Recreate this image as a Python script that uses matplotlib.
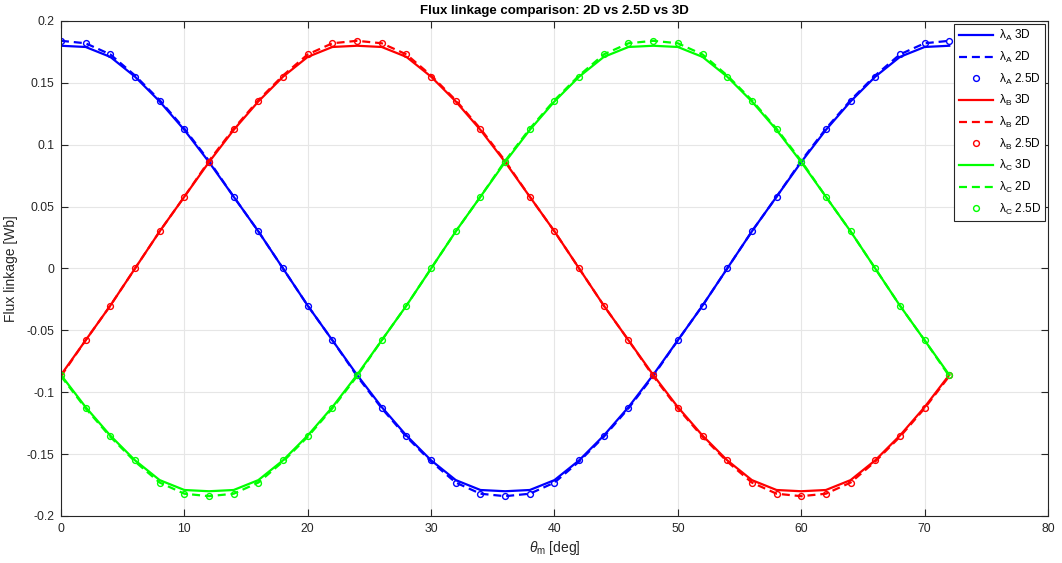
import numpy as np
import matplotlib
matplotlib.use("Agg")
import matplotlib.pyplot as plt

plt.rcParams["font.family"] = ["Liberation Sans", "DejaVu Sans"]
plt.rcParams["mathtext.fontset"] = "custom"
plt.rcParams["mathtext.rm"] = "Liberation Sans"
plt.rcParams["mathtext.it"] = "Liberation Sans:italic"

# Mechanical rotor angle [deg]
theta = [0, 2, 4, 6, 8, 10, 12, 14, 16, 18, 20, 22, 24, 26, 28, 30, 32, 34, 36,
         38, 40, 42, 44, 46, 48, 50, 52, 54, 56, 58, 60, 62, 64, 66, 68, 70, 72]

# Phase A flux linkage [Wb]
lamA_3d = [0.180, 0.179, 0.171, 0.155, 0.135, 0.112, 0.086, 0.058, 0.030, 0.000,
           -0.030, -0.058, -0.086, -0.112, -0.135, -0.155, -0.171, -0.179, -0.180,
           -0.179, -0.171, -0.155, -0.135, -0.112, -0.086, -0.058, -0.030, 0.000,
           0.030, 0.058, 0.086, 0.112, 0.135, 0.155, 0.171, 0.179, 0.180]
lamA_2d = [0.184, 0.182, 0.173, 0.156, 0.136, 0.113, 0.087, 0.058, 0.030, 0.000,
           -0.030, -0.058, -0.087, -0.113, -0.136, -0.156, -0.173, -0.182, -0.184,
           -0.182, -0.173, -0.156, -0.136, -0.113, -0.087, -0.058, -0.030, 0.000,
           0.030, 0.058, 0.087, 0.113, 0.136, 0.156, 0.173, 0.182, 0.184]
lamA_25d = [0.184, 0.182, 0.173, 0.155, 0.135, 0.113, 0.086, 0.058, 0.030, 0.000,
            -0.030, -0.058, -0.086, -0.113, -0.135, -0.155, -0.173, -0.182, -0.184,
            -0.182, -0.173, -0.155, -0.135, -0.113, -0.086, -0.058, -0.030, 0.000,
            0.030, 0.058, 0.086, 0.113, 0.135, 0.155, 0.173, 0.182, 0.184]

# Phase B flux linkage [Wb]
lamB_3d = [-0.086, -0.058, -0.030, 0.000, 0.030, 0.058, 0.086, 0.112, 0.135, 0.155,
           0.171, 0.179, 0.180, 0.179, 0.171, 0.155, 0.135, 0.112, 0.086, 0.058,
           0.030, 0.000, -0.030, -0.058, -0.086, -0.112, -0.135, -0.155, -0.171,
           -0.179, -0.180, -0.179, -0.171, -0.155, -0.135, -0.112, -0.086]
lamB_2d = [-0.087, -0.058, -0.030, 0.000, 0.030, 0.058, 0.087, 0.113, 0.136, 0.156,
           0.173, 0.182, 0.184, 0.182, 0.173, 0.156, 0.136, 0.113, 0.087, 0.058,
           0.030, 0.000, -0.030, -0.058, -0.087, -0.113, -0.136, -0.156, -0.173,
           -0.182, -0.184, -0.182, -0.173, -0.156, -0.136, -0.113, -0.087]
lamB_25d = [-0.086, -0.058, -0.030, 0.000, 0.030, 0.058, 0.086, 0.113, 0.135, 0.155,
            0.173, 0.182, 0.184, 0.182, 0.173, 0.155, 0.135, 0.113, 0.086, 0.058,
            0.030, 0.000, -0.030, -0.058, -0.086, -0.113, -0.135, -0.155, -0.173,
            -0.182, -0.184, -0.182, -0.173, -0.155, -0.135, -0.113, -0.086]

# Phase C flux linkage [Wb]
lamC_3d = [-0.086, -0.112, -0.135, -0.155, -0.171, -0.179, -0.180, -0.179, -0.171,
           -0.155, -0.135, -0.112, -0.086, -0.058, -0.030, 0.000, 0.030, 0.058,
           0.086, 0.112, 0.135, 0.155, 0.171, 0.179, 0.180, 0.179, 0.171, 0.155,
           0.135, 0.112, 0.086, 0.058, 0.030, 0.000, -0.030, -0.058, -0.086]
lamC_2d = [-0.087, -0.113, -0.136, -0.156, -0.173, -0.182, -0.184, -0.182, -0.173,
           -0.156, -0.136, -0.113, -0.087, -0.058, -0.030, 0.000, 0.030, 0.058,
           0.087, 0.113, 0.136, 0.156, 0.173, 0.182, 0.184, 0.182, 0.173, 0.156,
           0.136, 0.113, 0.087, 0.058, 0.030, 0.000, -0.030, -0.058, -0.087]
lamC_25d = [-0.086, -0.113, -0.135, -0.155, -0.173, -0.182, -0.184, -0.182, -0.173,
            -0.155, -0.135, -0.113, -0.086, -0.058, -0.030, 0.000, 0.030, 0.058,
            0.086, 0.113, 0.135, 0.155, 0.173, 0.182, 0.184, 0.182, 0.173, 0.155,
            0.135, 0.113, 0.086, 0.058, 0.030, 0.000, -0.030, -0.058, -0.086]

phases = [
    ("A", "#0000ff", lamA_3d, lamA_2d, lamA_25d),
    ("B", "#ff0000", lamB_3d, lamB_2d, lamB_25d),
    ("C", "#00ff00", lamC_3d, lamC_2d, lamC_25d),
]

fig = plt.figure(figsize=(10.62, 5.63), dpi=100)
ax = fig.add_axes([0.0574, 0.0835, 0.9294, 0.8792])

axcol = "#262626"
for name, col, l3, l2, l25 in phases:
    sym = rf"$\mathrm{{\lambda}}_\mathrm{{{name}}}$"
    ax.plot(theta, l3, color=col, lw=1.6, ls="-", label=f"{sym} 3D")
    ax.plot(theta, l2, color=col, lw=1.6, ls=(0, (3.6, 2.2)), label=f"{sym} 2D")
    ax.plot(theta, l25, color=col, ls="none", marker="o", ms=4.2, mew=1.0,
            mfc="none", mec=col, label=f"{sym} 2.5D")

ax.set_xlim(0, 80)
ax.set_ylim(-0.2, 0.2)
ax.set_xticks(np.arange(0, 81, 10))
ax.set_yticks(np.arange(-0.2, 0.201, 0.05))
ax.set_yticklabels(["-0.2", "-0.15", "-0.1", "-0.05", "0", "0.05", "0.1", "0.15", "0.2"])

ax.grid(True, color="#e6e6e6", lw=0.8)
ax.set_axisbelow(True)
ax.tick_params(direction="in", top=True, right=True, length=5, width=0.8,
               colors=axcol, labelsize=8.8, pad=5)
for sp in ax.spines.values():
    sp.set_color(axcol)
    sp.set_linewidth(0.8)

ax.set_xlabel(r"$\theta_\mathrm{m}$ [deg]", fontsize=10, color=axcol, labelpad=3)
ax.set_ylabel("Flux linkage [Wb]", fontsize=10, color=axcol, labelpad=6)
ax.set_title("Flux linkage comparison: 2D vs 2.5D vs 3D", fontsize=9.5,
             fontweight="bold", color="black", pad=5)

leg = ax.legend(loc="upper right", fontsize=8.6, frameon=True, fancybox=False,
                edgecolor=axcol, framealpha=1, handlelength=2.9, handletextpad=0.45,
                labelspacing=0.55, borderaxespad=0.25, borderpad=0.35)
leg.get_frame().set_linewidth(0.8)

fig.savefig("out.png", dpi=100, facecolor="white")
